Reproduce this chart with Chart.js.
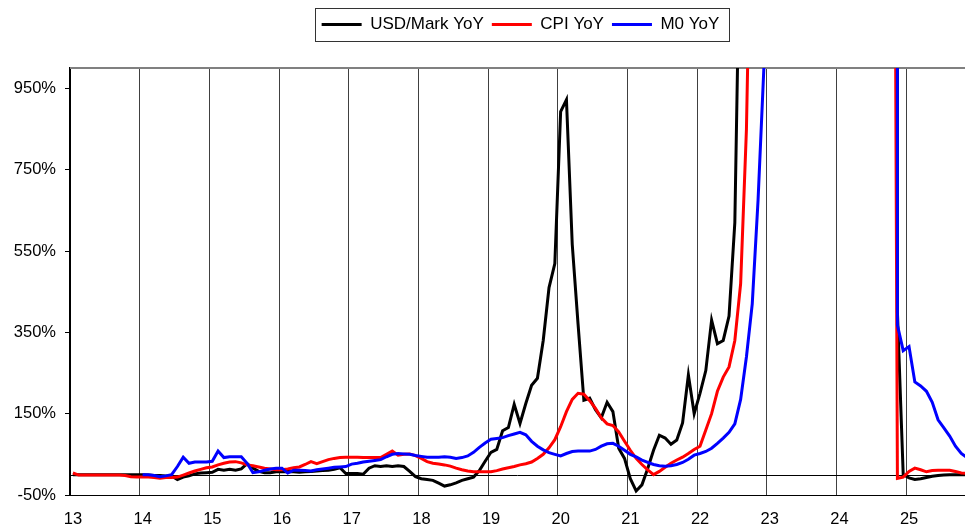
<!DOCTYPE html>
<html>
<head>
<meta charset="utf-8">
<script src="https://cdn.jsdelivr.net/npm/chart.js@4.4.1/dist/chart.umd.min.js"></script>
<style>
html, body { margin: 0; padding: 0; background: #fff; }
</style>
</head>
<body>
<canvas id="grafica" width="965" height="531"></canvas>
<script>
// monthly YoY changes (%), Jan 1913 .. Nov 1925; 1923-24 values are far off the chart
var anioInicio = 13;
var anios = [13, 14, 15, 16, 17, 18, 19, 20, 21, 22, 23, 24, 25];
var ticksY = [-50, 150, 350, 550, 750, 950];

var usdMarco = [
    0, 0, 0, 0, 0, 0, 0, 0, 0, 0, 0, 0,
    0, -1, -2, -2, -3, -3, -12, -6, -3, 2, 4, 5,
    6, 13, 11, 13, 11, 14, 27, 16, 8, 5, 5, 7,
    7, 8, 7, 6, 7, 8, 9, 10, 11, 13, 17, 3,
    3, 3, 1, 16, 22, 20, 22, 20, 22, 20, 8, -5,
    -10, -12, -14, -21, -28, -25, -20, -14, -10, -6, 10, 33,
    55, 62, 108, 116, 173, 126, 175, 220, 237, 330, 460, 519,
    893, 922, 566, 370, 183, 188, 160, 140, 178, 155, 65, 40,
    -10, -40, -25, 15, 60, 97, 90, 75, 85, 127, 245, 150,
    200, 256, 380, 322, 330, 390, 620, 1450, 2700, 4300, 9800, 16000,
    48000, 130000, 150000, 220000, 650000, 1.6e6, 1.3e7, 1e8, 1.2e9, 2.7e10, 4.6e12, 1.1e13,
    1.2e13, 1.2e13, 1.2e13, 1.1e13, 6.4e12, 3.2e12, 1.2e12, 2.6e11, 8e9, 1.1e9, 400, 0,
    -8, -12, -10, -7, -4, -2, -1, 0, 0, 0, 0
];
var ipc = [
    4, -1, -1, -1, -1, -1, -1, -1, -1, -2, -5, -6,
    -6, -6, -7, -9, -7, -7, -6, -1, 4, 9, 13, 17,
    19, 24, 28, 31, 32, 29, 24, 22, 19, 16, 14, 12,
    12, 14, 17, 19, 25, 32, 27, 32, 37, 40, 42, 43,
    43, 43, 42, 42, 42, 42, 50, 58, 48, 50, 51, 47,
    40, 32, 28, 26, 24, 21, 16, 12, 9, 7, 7, 7,
    7, 10, 14, 17, 20, 24, 27, 31, 40, 50, 66, 86,
    118, 155, 185, 200, 198, 182, 163, 140, 125, 121, 105, 82,
    60, 40, 25, 12, 0, 8, 18, 28, 36, 43, 52, 62,
    70, 110, 150, 205, 240, 265, 330, 470, 850, 1600, 3000, 5200,
    9000, 24000, 43000, 52000, 80000, 190000, 1.2e6, 9e6, 2.4e8, 7e9, 7e11, 1.2e12,
    1.2e12, 1.1e12, 1e12, 9e11, 5e11, 2.5e11, 9e10, 2e10, 6e9, 3400, -9, -6,
    8, 16, 12, 7, 10, 11, 11, 11, 8, 4, 3
];
var m0 = [
    null, null, null, null, null, null, null, null, null, null, null, null,
    0, 0, -2, -5, -3, 0, 20, 43, 28, 31, 31, 31,
    33, 58, 42, 44, 44, 44, 28, 5, 7, 11, 14, 16,
    16, 4, 11, 11, 10, 9, 12, 14, 16, 18, 19, 20,
    26, 28, 31, 33, 35, 37, 44, 50, 52, 51, 50, 47,
    45, 43, 43, 43, 44, 43, 40, 42, 46, 55, 67, 78,
    87, 89, 91, 96, 100, 104, 98, 82, 70, 61, 54, 50,
    46, 52, 57, 58, 58, 58, 62, 70, 76, 77, 70, 60,
    50, 44, 36, 30, 25, 22, 21, 22, 25, 30, 38, 48,
    52, 57, 65, 77, 90, 104, 125, 185, 290, 420, 675, 1000,
    3900, 7800, 12000, 23000, 53000, 150000, 900000, 9e6, 1.7e8, 1.8e10, 2.3e12, 5e13,
    5e13, 4.8e13, 4.5e13, 4e13, 2e13, 8e12, 3e12, 6e11, 2e10, 1e9, 368, 305,
    315, 228, 218, 205, 178, 135, 115, 95, 70, 52, 42
];

function puntos(valores){
    return valores.map(function(v, i){
        return {x: anioInicio + (i + 0.5) / 12, y: v};
    });
}

var fuente = 'Liberation Sans, Arial, sans-serif';

var marco = {
    id: 'marco',
    afterLayout: function(chart){
        var lg = chart.legend;
        lg.left += 38; lg.right += 38;
        lg.top -= 25; lg.bottom -= 25;
    },
    beforeDatasetsDraw: function(chart){
        var c = chart.ctx, a = chart.chartArea;
        var y0 = Math.round(chart.scales.y.getPixelForValue(0)) + 0.5;
        c.save();
        c.strokeStyle = '#000';
        c.lineWidth = 1;
        c.beginPath();
        c.moveTo(a.left, y0);
        c.lineTo(a.right, y0);
        c.stroke();
        c.strokeStyle = '#808080';
        c.lineWidth = 2;
        c.beginPath();
        c.moveTo(a.left, a.top);
        c.lineTo(a.right, a.top);
        c.stroke();
        c.restore();
    },
    afterDraw: function(chart){
        var lg = chart.legend, c = chart.ctx;
        var pad = lg.options.labels.padding;
        var x0 = (lg.left + pad + lg.right - lg.lineWidths[0]) / 2;
        var izq = Math.round(x0 - 7) + 0.5;
        var der = Math.round(x0 + lg.lineWidths[0] - pad + 10) + 0.5;
        c.save();
        c.strokeStyle = '#333';
        c.lineWidth = 1;
        c.strokeRect(izq, Math.round(lg.top) + 0.5, der - izq, 33);
        c.restore();
    }
};

var ctx = document.getElementById('grafica').getContext('2d');
var grafica = new Chart(ctx, {
    type: 'line',
    data: {
        datasets: [{
            label: 'USD/Mark YoY',
            data: puntos(usdMarco),
            borderColor: '#000000',
            backgroundColor: '#000000',
            borderWidth: 3,
            pointRadius: 0,
            order: 3
        }, {
            label: 'CPI YoY',
            data: puntos(ipc),
            borderColor: '#ff0000',
            backgroundColor: '#ff0000',
            borderWidth: 3,
            pointRadius: 0,
            order: 2
        }, {
            label: 'M0 YoY',
            data: puntos(m0),
            borderColor: '#0000ff',
            backgroundColor: '#0000ff',
            borderWidth: 3,
            pointRadius: 0,
            order: 1
        }]
    },
    options: {
        responsive: false,
        animation: false,
        layout: { padding: { top: 33, left: 0, right: 0, bottom: 0 } },
        plugins: {
            tooltip: { enabled: false },
            legend: {
                position: 'top',
                labels: {
                    usePointStyle: true,
                    pointStyle: 'line',
                    pointStyleWidth: 40,
                    padding: 8,
                    color: '#000',
                    font: { family: fuente, size: 17 },
                    sort: function(a, b){ return a.datasetIndex - b.datasetIndex; }
                }
            }
        },
        scales: {
            x: {
                type: 'linear',
                min: 13,
                max: 25.845,
                afterBuildTicks: function(s){ s.ticks = anios.map(function(v){ return {value: v}; }); },
                afterFit: function(s){ s.height = 36; },
                ticks: {
                    autoSkip: false,
                    maxRotation: 0,
                    padding: 15,
                    labelOffset: 3,
                    color: '#000',
                    font: { family: fuente, size: 16.5 },
                    callback: function(v){ return String(v); }
                },
                grid: { color: '#404040', lineWidth: 1, drawTicks: false },
                border: { color: '#000', width: 1 }
            },
            y: {
                min: -50,
                max: 1000,
                afterBuildTicks: function(s){ s.ticks = ticksY.map(function(v){ return {value: v}; }); },
                afterFit: function(s){ s.width = 70; },
                ticks: {
                    padding: 9,
                    color: '#000',
                    font: { family: fuente, size: 16.5 },
                    callback: function(v){ return v + '%'; }
                },
                grid: { drawOnChartArea: false, drawTicks: true, tickLength: 5, color: '#000' },
                border: { color: '#000', width: 2 }
            }
        }
    },
    plugins: [marco]
});
</script>
</body>
</html>
